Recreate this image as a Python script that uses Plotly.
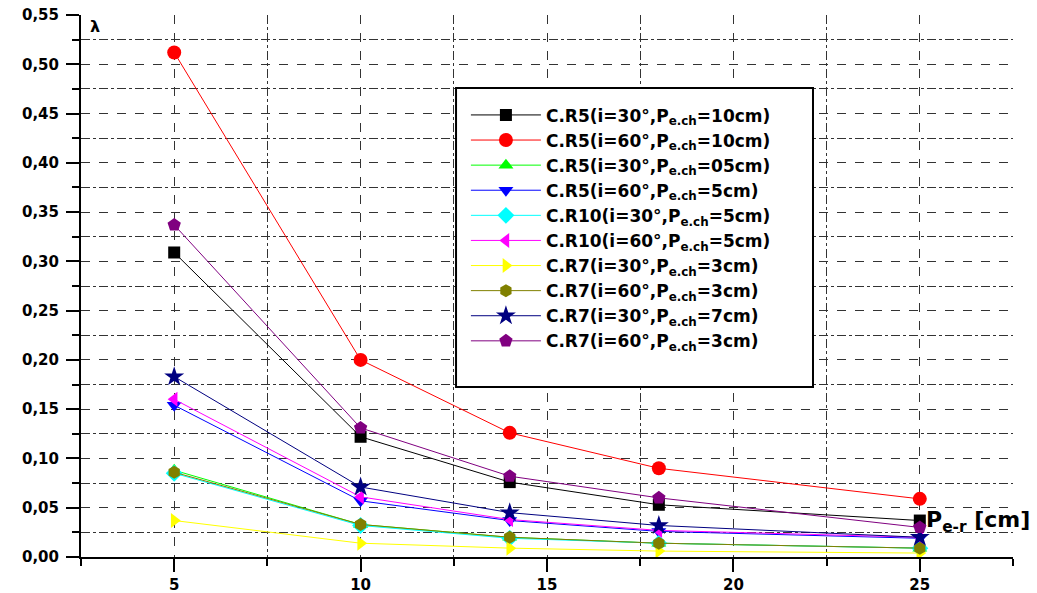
import plotly.graph_objects as go

x_vals = [5, 10, 14, 18, 25]

names = [
    "C.R5(i=30°,P<sub>e.ch</sub>=10cm)",
    "C.R5(i=60°,P<sub>e.ch</sub>=10cm)",
    "C.R5(i=30°,P<sub>e.ch</sub>=05cm)",
    "C.R5(i=60°,P<sub>e.ch</sub>=5cm)",
    "C.R10(i=30°,P<sub>e.ch</sub>=5cm)",
    "C.R10(i=60°,P<sub>e.ch</sub>=5cm)",
    "C.R7(i=30°,P<sub>e.ch</sub>=3cm)",
    "C.R7(i=60°,P<sub>e.ch</sub>=3cm)",
    "C.R7(i=30°,P<sub>e.ch</sub>=7cm)",
    "C.R7(i=60°,P<sub>e.ch</sub>=3cm)",
]

cr5_30_10 = [0.309, 0.122, 0.076, 0.053, 0.037]
cr5_60_10 = [0.512, 0.200, 0.126, 0.090, 0.059]
cr5_30_05 = [0.088, 0.033, 0.020, 0.014, 0.009]
cr5_60_5 = [0.154, 0.057, 0.037, 0.026, 0.019]
cr10_30_5 = [0.085, 0.032, 0.019, 0.014, 0.009]
cr10_60_5 = [0.160, 0.061, 0.038, 0.027, 0.020]
cr7_30_3 = [0.037, 0.014, 0.009, 0.006, 0.004]
cr7_60_3 = [0.086, 0.033, 0.020, 0.014, 0.009]
cr7_30_7 = [0.183, 0.071, 0.045, 0.032, 0.020]
cr7_60_3b = [0.337, 0.131, 0.082, 0.060, 0.030]

series = [cr5_30_10, cr5_60_10, cr5_30_05, cr5_60_5, cr10_30_5,
          cr10_60_5, cr7_30_3, cr7_60_3, cr7_30_7, cr7_60_3b]
colors = ["#000000", "#FF0000", "#00FF00", "#0000FF", "#00FFFF",
          "#FF00FF", "#FFFF00", "#808000", "#000080", "#800080"]
symbols = ["square", "circle", "triangle-up", "triangle-down", "diamond",
           "triangle-left", "triangle-right", "hexagon", "star", "pentagon"]
sizes = [12, 14, 13, 13, 13, 13, 13, 13, 15, 14]

fig = go.Figure()
for name, ys, c, s, sz in zip(names, series, colors, symbols, sizes):
    fig.add_trace(go.Scatter(
        x=x_vals, y=ys, name="<b>" + name + "</b>", mode="lines+markers",
        line=dict(color=c, width=1),
        marker=dict(color=c, symbol=s, size=sz, line=dict(width=0)),
    ))

FONT = "DejaVu Sans, Liberation Sans, Arial"
axis_font = dict(family=FONT, size=15, color="black", weight="bold")

fig.update_layout(
    width=1037, height=593,
    margin=dict(l=81, r=24, t=15, b=36, autoexpand=False),
    plot_bgcolor="white", paper_bgcolor="white",
    separators=",.",
    showlegend=True,
    legend=dict(
        x=0.413, y=0.848, xanchor="left", yanchor="top",
        bgcolor="rgba(0,0,0,0)", borderwidth=0,
        font=dict(family=FONT, size=17, color="black"),
        itemwidth=70, tracegroupgap=0,
    ),
    xaxis=dict(
        range=[2.5, 27.5], tickvals=[5, 10, 15, 20, 25],
        showline=True, linecolor="black", linewidth=2,
        ticks="outside", ticklen=13, tickwidth=2, tickcolor="black",
        tickfont=axis_font, automargin=False, ticklabeloverflow="allow",
        showgrid=True, gridcolor="#333333", gridwidth=1, griddash="dash",
        minor=dict(tickvals=[2.5, 7.5, 12.5, 17.5, 22.5, 27.5], ticks="outside",
                   ticklen=7, tickwidth=2, tickcolor="black",
                   showgrid=True, gridcolor="#333333", gridwidth=1, griddash="dashdot"),
        zeroline=False,
    ),
    yaxis=dict(
        range=[0, 0.55], dtick=0.05, tick0=0, tickformat=".2f",
        showline=True, linecolor="black", linewidth=2,
        ticks="outside", ticklen=13, tickwidth=2, tickcolor="black",
        tickfont=axis_font, automargin=False, ticklabeloverflow="allow",
        ticklabelstandoff=4,
        showgrid=True, gridcolor="#333333", gridwidth=1, griddash="dash",
        minor=dict(dtick=0.025, tick0=0.025, ticks="outside", ticklen=7, tickwidth=2,
                   tickcolor="black", showgrid=True, gridcolor="#333333",
                   gridwidth=1, griddash="dashdot"),
        zeroline=False,
    ),
    shapes=[
        dict(type="rect", xref="paper", yref="paper",
             x0=0.4024, x1=0.7854, y0=0.3137, y1=0.8653,
             fillcolor="white", line=dict(color="black", width=2), layer="above"),
    ],
    annotations=[
        dict(text="<b>λ</b>", x=0.008, y=1.0, xref="paper", yref="paper",
             xanchor="left", yanchor="top", showarrow=False,
             font=dict(family=FONT, size=16, color="black")),
        dict(text="<b>P<sub>e-r</sub> [cm]</b>", x=0.905, y=0.065, xref="paper", yref="paper",
             xanchor="left", yanchor="middle", showarrow=False,
             font=dict(family=FONT, size=22, color="black")),
    ],
)

# remove the browser's default 8px body margin so the figure fills the window
fig.write_html("out.html", config={"displayModeBar": False},
               post_script="document.body.style.margin='0';")
